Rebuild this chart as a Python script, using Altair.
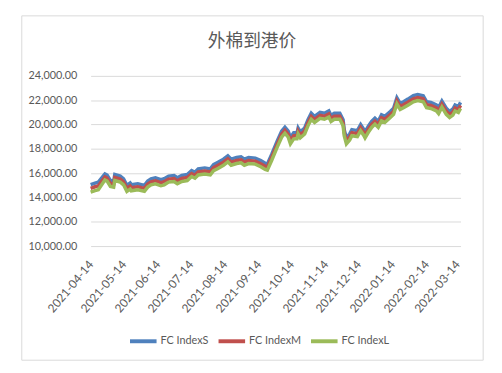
import altair as alt
import pandas as pd

dates = [
    "2021-04-14", "2021-04-18", "2021-04-21", "2021-04-27", "2021-04-29", "2021-05-02", "2021-05-05", "2021-05-06",
    "2021-05-11", "2021-05-14", "2021-05-17", "2021-05-20", "2021-05-21", "2021-05-27", "2021-06-02", "2021-06-05",
    "2021-06-08", "2021-06-12", "2021-06-17", "2021-06-20", "2021-06-24", "2021-06-29", "2021-07-02", "2021-07-06",
    "2021-07-11", "2021-07-15", "2021-07-18", "2021-07-21", "2021-07-27", "2021-08-01", "2021-08-04", "2021-08-08",
    "2021-08-13", "2021-08-17", "2021-08-20", "2021-08-25", "2021-08-29", "2021-09-01", "2021-09-05", "2021-09-11",
    "2021-09-16", "2021-09-20", "2021-09-22", "2021-09-26", "2021-10-01", "2021-10-05", "2021-10-08", "2021-10-11",
    "2021-10-13", "2021-10-16", "2021-10-19", "2021-10-20", "2021-10-22", "2021-10-26", "2021-10-29", "2021-11-01",
    "2021-11-04", "2021-11-09", "2021-11-13", "2021-11-17", "2021-11-19", "2021-11-22", "2021-11-27", "2021-11-30",
    "2021-12-01", "2021-12-03", "2021-12-06", "2021-12-08", "2021-12-13", "2021-12-16", "2021-12-19", "2021-12-20",
    "2021-12-23", "2021-12-26", "2021-12-29", "2022-01-01", "2022-01-04", "2022-01-07", "2022-01-12", "2022-01-15",
    "2022-01-18", "2022-01-21", "2022-01-24", "2022-01-28", "2022-02-02", "2022-02-06", "2022-02-11", "2022-02-14",
    "2022-02-18", "2022-02-23", "2022-02-25", "2022-02-28", "2022-03-04", "2022-03-07", "2022-03-10", "2022-03-12",
    "2022-03-15", "2022-03-17",
]

index_s = [
    15050, 15180, 15260, 15940, 15840, 15410, 15350, 15890, 15760, 15540, 15000, 15190, 15050, 15130, 15000, 15350,
    15540, 15620, 15460, 15540, 15760, 15810, 15620, 15810, 15890, 16220, 16080, 16350, 16430, 16350, 16700, 16890,
    17150, 17430, 17150, 17290, 17350, 17150, 17290, 17240, 17030, 16810, 16750, 17560, 18640, 19450, 19780, 19450,
    18910, 19320, 19320, 19720, 19400, 19720, 20390, 20930, 20670, 21010, 20930, 21120, 20750, 20930, 20930, 20390,
    19580, 18910, 19230, 19580, 19500, 19990, 19580, 19400, 19860, 20260, 20530, 20260, 20800, 20670, 21070, 21340,
    22200, 21740, 21880, 22090, 22370, 22470, 22370, 21880, 21820, 21610, 21390, 21930, 21340, 21070, 21280, 21610,
    21480, 21820,
]

index_m = [
    14750, 14880, 14960, 15690, 15590, 15160, 15100, 15640, 15510, 15290, 14750, 14940, 14800, 14880, 14750, 15100,
    15290, 15370, 15210, 15290, 15510, 15560, 15370, 15560, 15640, 15970, 15830, 16100, 16180, 16100, 16450, 16640,
    16900, 17180, 16900, 17040, 17100, 16900, 17040, 16990, 16780, 16560, 16500, 17310, 18390, 19200, 19530, 19200,
    18660, 19070, 19070, 19470, 19150, 19470, 20140, 20680, 20420, 20760, 20680, 20870, 20500, 20680, 20680, 20140,
    19330, 18660, 18980, 19330, 19250, 19740, 19330, 19150, 19610, 20010, 20280, 20010, 20550, 20420, 20820, 21090,
    21950, 21490, 21630, 21840, 22120, 22220, 22120, 21630, 21570, 21360, 21140, 21680, 21090, 20820, 21030, 21360,
    21230, 21570,
]

index_l = [
    14430, 14560, 14640, 15440, 15340, 14910, 14850, 15390, 15260, 15040, 14500, 14690, 14550, 14630, 14500, 14850,
    15040, 15120, 14960, 15040, 15260, 15310, 15120, 15310, 15390, 15720, 15580, 15850, 15930, 15850, 16200, 16390,
    16650, 16930, 16650, 16790, 16850, 16650, 16790, 16740, 16530, 16310, 16250, 17060, 18140, 18950, 19280, 18950,
    18410, 18820, 18820, 19220, 18900, 19220, 19890, 20430, 20170, 20510, 20430, 20620, 20250, 20430, 20430, 19890,
    19080, 18410, 18730, 19080, 19000, 19490, 19080, 18900, 19360, 19760, 20030, 19760, 20300, 20170, 20570, 20840,
    21700, 21240, 21380, 21590, 21870, 21970, 21870, 21380, 21320, 21110, 20890, 21430, 20840, 20570, 20780, 21110,
    20980, 21320,
]

series_names = ["FC IndexS", "FC IndexM", "FC IndexL"]
series_colors = ["#4F81BD", "#C0504D", "#9BBB59"]
x_ticks = [
    "2021-04-14", "2021-05-14", "2021-06-14", "2021-07-14", "2021-08-14", "2021-09-14",
    "2021-10-14", "2021-11-14", "2021-12-14", "2022-01-14", "2022-02-14", "2022-03-14",
]
y_ticks = [10000, 12000, 14000, 16000, 18000, 20000, 22000, 24000]

rows = []
for name, vals in zip(series_names, [index_s, index_m, index_l]):
    for d, v in zip(dates, vals):
        rows.append({"date": d, "value": v, "series": name})
df = pd.DataFrame(rows)

FONT = "Lato"
TEXT = "#595959"

frame = alt.Chart(pd.DataFrame({"k": [0]})).mark_rect(
    fillOpacity=0, stroke="#D9D9D9", strokeWidth=1
).encode(
    x=alt.value(-70), x2=alt.value(399), y=alt.value(-61), y2=alt.value(289)
)

title = alt.Chart(pd.DataFrame({"t": ["外棉到港价"]})).mark_text(
    font="Noto Sans CJK SC", fontSize=18, color=TEXT, baseline="middle", align="center"
).encode(x=alt.value(164), y=alt.value(-34), text="t:N")

lines = alt.Chart(df).mark_line(strokeWidth=3.5, clip=False).encode(
    x=alt.X(
        "date:T",
        scale=alt.Scale(domain=["2021-04-14", "2022-03-17"]),
        axis=alt.Axis(
            title=None, values=x_ticks, format="%Y-%m-%d", labelAngle=-50,
            labelAlign="right", labelBaseline="middle", labelOverlap=False,
            grid=False, domain=False, ticks=False, labelPadding=16,
            labelFont=FONT, labelFontSize=12, labelColor=TEXT,
        ),
    ),
    y=alt.Y(
        "value:Q",
        scale=alt.Scale(domain=[10000, 24000], nice=False, zero=False),
        axis=alt.Axis(
            title=None, values=y_ticks, format=",.2f", grid=True, gridColor="#D9D9D9",
            gridWidth=1, domain=False, ticks=False, labelPadding=14,
            labelFont=FONT, labelFontSize=11, labelColor=TEXT,
        ),
    ),
    color=alt.Color(
        "series:N",
        sort=series_names,
        scale=alt.Scale(domain=series_names, range=series_colors),
        legend=alt.Legend(
            title=None, orient="none", direction="horizontal", legendX=38, legendY=254,
            symbolType="stroke", symbolSize=729, symbolStrokeWidth=4,
            labelFont=FONT, labelFontSize=11, labelColor=TEXT,
            labelOffset=2, columnPadding=2,
        ),
    ),
    order=alt.Order("series:N", sort="descending"),
)

chart = alt.layer(frame, title, lines).properties(
    width=376, height=173,
    autosize=alt.AutoSizeParams(type="none"),
    padding={"left": 84, "top": 66, "right": 34, "bottom": 126},
    background="white",
).configure_view(stroke=None)

chart.save("out.html", embed_options={"renderer": "svg", "actions": False})
